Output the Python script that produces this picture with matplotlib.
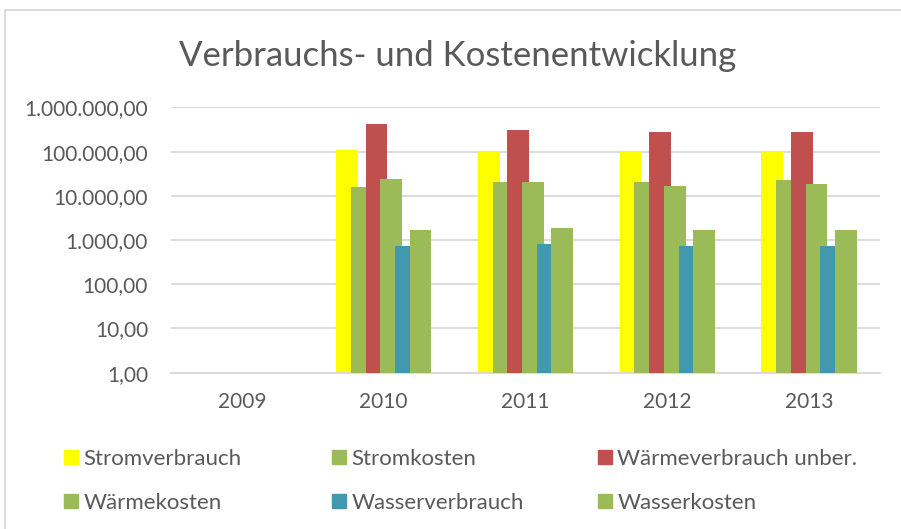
import matplotlib
matplotlib.use("Agg")
import matplotlib.pyplot as plt
import numpy as np
from matplotlib.patches import Rectangle, Patch

plt.rcParams["font.family"] = ["Lato", "DejaVu Sans"]

YEARS = ["2009", "2010", "2011", "2012", "2013"]
SERIES = ["Stromverbrauch", "Stromkosten", "Wärmeverbrauch unber.",
          "Wärmekosten", "Wasserverbrauch", "Wasserkosten"]
COLORS = ["#ffff00", "#9bbb59", "#c0504d", "#9bbb59", "#4198af", "#9bbb59"]

# 2009 hat keine Werte
stromverbrauch = [np.nan, 110000, 96000, 96000, 96000]
stromkosten    = [np.nan, 16300, 20400, 20400, 22800]
waerme_verbr   = [np.nan, 425000, 310000, 280000, 280000]
waermekosten   = [np.nan, 24700, 20400, 16600, 18100]
wasserverbr    = [np.nan, 720, 800, 720, 720]
wasserkosten   = [np.nan, 1660, 1850, 1660, 1660]

VALUES = [stromverbrauch, stromkosten, waerme_verbr,
          waermekosten, wasserverbr, wasserkosten]

TEXT = "#595959"
GRID = "#d9d9d9"

fig = plt.figure(figsize=(9.01, 5.29), dpi=100)
ax = fig.add_axes([0.1898, 0.2955, 0.9767 - 0.1898, 0.7968 - 0.2955])

x = np.arange(len(YEARS))
step = 0.1037
width = 0.153
for i, (vals, col) in enumerate(zip(VALUES, COLORS)):
    ax.bar(x + (i - 2.5) * step, vals, width, color=col, zorder=2 + i,
           edgecolor="none")

ax.set_yscale("log")
ax.set_ylim(1, 1e6)
ax.set_xlim(-0.5, len(YEARS) - 0.5)
yt = [1, 10, 100, 1000, 10000, 100000, 1000000]
ax.set_yticks(yt)
ax.set_yticklabels(["1,00", "10,00", "100,00", "1.000,00", "10.000,00",
                    "100.000,00", "1.000.000,00"])
ax.yaxis.set_minor_locator(matplotlib.ticker.NullLocator())
ax.set_xticks(x)
ax.set_xticklabels(YEARS)
ax.tick_params(axis="both", length=0, labelsize=15, colors=TEXT)
ax.tick_params(axis="y", pad=16.5)
ax.tick_params(axis="x", pad=14)
ax.grid(axis="y", color=GRID, lw=1.3, zorder=0)
for s in ["left", "right", "top"]:
    ax.spines[s].set_visible(False)
ax.spines["bottom"].set_color(GRID)
ax.spines["bottom"].set_linewidth(1.3)

fig.text(0.5 * (180 + 735) / 901, 1 - 56 / 529,
         "Verbrauchs- und Kostenentwicklung",
         ha="center", va="center", fontsize=25, color=TEXT)

# Rahmen um das Diagramm
fig.patches.append(Rectangle((5 / 901, -0.1), 1.2, 1 - 10 / 529 + 0.1,
                             transform=fig.transFigure, fill=False,
                             edgecolor=GRID, lw=1.3))

# Legende in drei Spalten
handles = [Patch(color=c) for c in COLORS]
cols = [(0, 3), (1, 4), (2, 5)]
col_x = [64 / 901, 332 / 901, 598 / 901]
for (a, b), cx in zip(cols, col_x):
    fig.legend([handles[a], handles[b]], [SERIES[a], SERIES[b]],
               loc="upper left", bbox_to_anchor=(cx, 1 - 449 / 529),
               frameon=False, fontsize=16, labelcolor=TEXT,
               handlelength=0.62, handleheight=0.62, handletextpad=0.25,
               labelspacing=1.08, borderpad=0, borderaxespad=0)

fig.savefig("out.png", dpi=100)
